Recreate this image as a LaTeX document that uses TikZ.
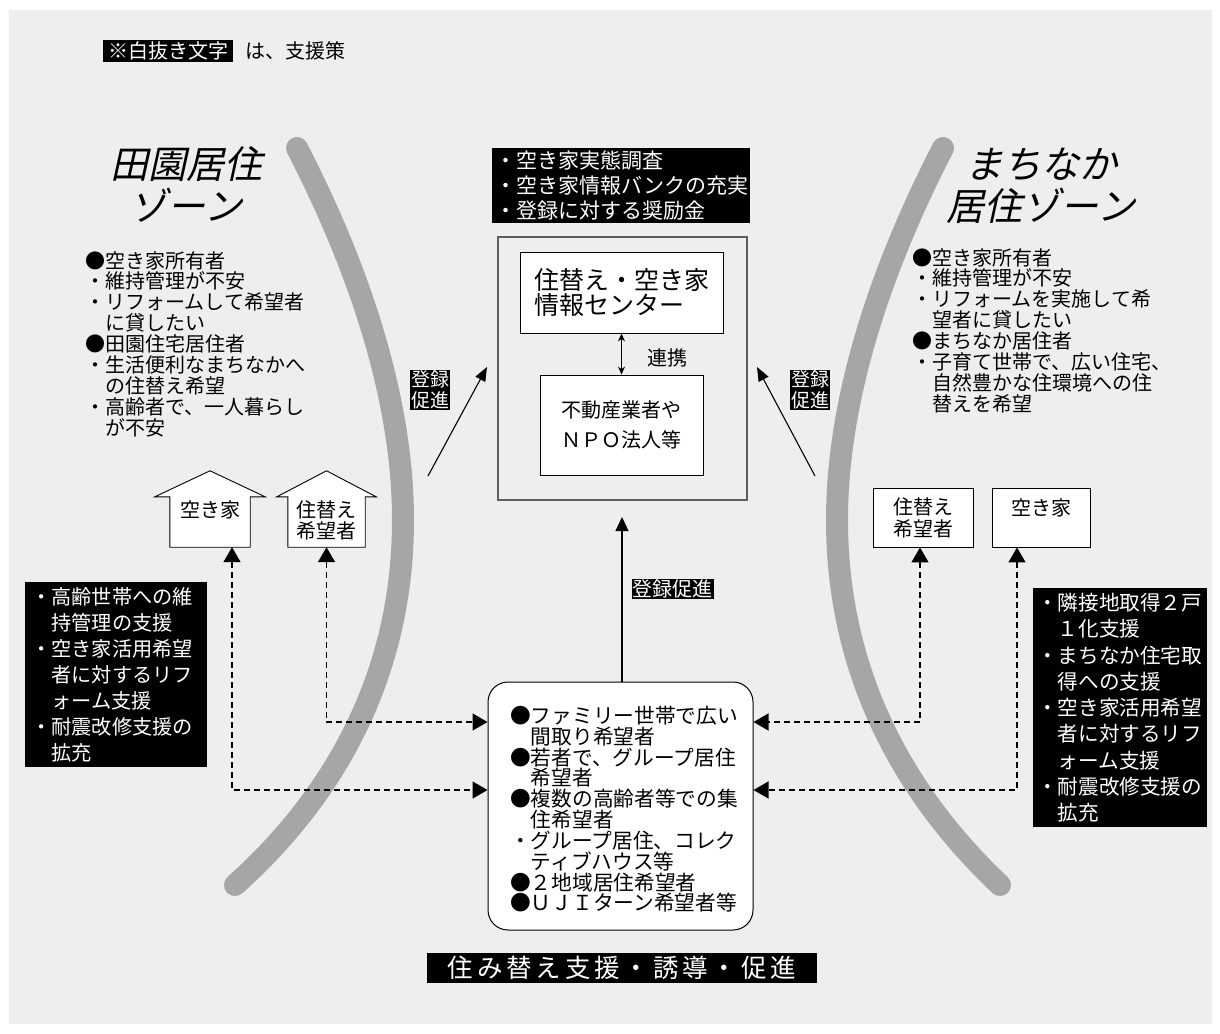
\documentclass[tikz,border=0pt]{standalone}
\usepackage{fontspec}
\setmainfont{Noto Sans CJK JP}
\newfontfamily\jpslant[FakeSlant=0.22]{Noto Sans CJK JP}
\usetikzlibrary{arrows.meta,calc}
\definecolor{bggray}{HTML}{EEEEEE}
\definecolor{arcgray}{HTML}{A6A6A6}
\definecolor{framegray}{HTML}{5E5E5E}
\begin{document}
\begin{tikzpicture}[x=1pt,y=-1pt,
  txt/.style={inner sep=0pt, align=left, font=\fontsize{20}{20.9}\selectfont},
  rev/.style={fill=black, text=white},
  wbox/.style={draw=black, fill=white, line width=0.9pt},
  wline/.style={draw=black, fill=white, line width=0.9pt},
  zonearc/.style={draw=arcgray, line width=22pt, line cap=round},
  dl/.style={line width=1.4pt, dash pattern=on 6pt off 4pt, {Triangle[width=17pt,length=15pt]}-{Triangle[width=17pt,length=15pt]}},
  ttl/.style={font=\jpslant\fontsize{38}{42}\selectfont, align=center, inner sep=0pt},
  promo/.style={line width=1.1pt, -{Triangle[width=11pt,length=14pt]}},
]
\useasboundingbox (0,0) rectangle (1220,1033);
\fill[white] (0,0) rectangle (1220,1033);
\fill[bggray] (9,10) rectangle (1212,1024);

% zone arcs
\draw[zonearc] (297,148) .. controls (360,270) and (403,400) .. (403,520) .. controls (403,680) and (330,800) .. (235,885);
\draw[zonearc] (943,148) .. controls (880,270) and (837,400) .. (837,520) .. controls (837,680) and (910,800) .. (1000,885);

% legend
\node[rev, minimum width=130pt, minimum height=22pt, inner sep=0pt, font=\fontsize{20}{20}\selectfont] (leg) at (168,51) {※白抜き文字};
\node[txt, anchor=west] (legtxt) at (245,51) {は、支援策};

% titles
\node[ttl] (ttlL) at (186,184) {田園居住\\ゾーン};
\node[ttl] (ttlR) at (1041,186) {まちなか\\居住ゾーン};

% zone lists
\node[txt, anchor=north west] (listL) at (85,251) {●空き家所有者\\・維持管理が不安\\・リフォームして希望者\\　に貸したい\\●田園住宅居住者\\・生活便利なまちなかへ\\　の住替え希望\\・高齢者で、一人暮らし\\　が不安};
\node[txt, anchor=north west] (listR) at (912,248) {●空き家所有者\\・維持管理が不安\\・リフォームを実施して希\\　望者に貸したい\\●まちなか居住者\\・子育て世帯で、広い住宅、\\　自然豊かな住環境への住\\　替えを希望};

% center
\node[rev, anchor=north west, minimum width=258pt, minimum height=75pt, text width=252pt, inner xsep=3pt, inner ysep=0pt, align=left, font=\fontsize{21}{25}\selectfont] (topbox) at (492,148) {・空き家実態調査\\・空き家情報バンクの充実\\・登録に対する奨励金};
\node[draw=framegray, line width=1.6pt, minimum width=249pt, minimum height=263pt] (frame) at (622.5,368.5) {};
\node[wbox, minimum width=203pt, minimum height=81pt, align=left, inner sep=0pt, font=\fontsize{25}{25}\selectfont] (info) at (621.5,292.5) {住替え・空き家\\情報センター};
\node[wbox, minimum width=163pt, minimum height=100pt, align=center, inner sep=0pt, font=\fontsize{20}{30}\selectfont] (npo) at (621.5,425) {不動産業者や\\ＮＰＯ法人等};
\draw[line width=1pt, {Stealth[length=8pt,width=7pt]}-{Stealth[length=8pt,width=7pt]}] (info.south) -- (npo.north);
\node[txt] (renkei) at (667,358) {連携};

% promotion arrows to the centre
\coordinate (la0) at (428,476);
\coordinate (la1) at (487,367);
\draw[promo] (la0) -- (la1);
\node[rev, inner sep=1pt, align=center, font=\fontsize{19}{21}\selectfont] (promoL) at (430,390) {登録\\促進};
\coordinate (ra0) at (815,476);
\coordinate (ra1) at (757,367);
\draw[promo] (ra0) -- (ra1);
\node[rev, inner sep=1pt, align=center, font=\fontsize{19}{21}\selectfont] (promoR) at (810,390) {登録\\促進};

% bottom box
\node[draw=black, fill=white, line width=1pt, rounded corners=20pt, minimum width=265pt, minimum height=248pt] (bot) at (620.5,806) {};
\node[txt, anchor=north west, font=\fontsize{20.7}{20.8}\selectfont] (bottxt) at (510,706) {●ファミリー世帯で広い\\　間取り希望者\\●若者で、グループ居住\\　希望者\\●複数の高齢者等での集\\　住希望者\\・グループ居住、コレク\\　ティブハウス等\\●２地域居住希望者\\●ＵＪＩターン希望者等};

\coordinate (vtip) at (622,517);
\draw[promo, -{Triangle[width=13pt,length=14pt]}] (bot.north -| vtip) -- (vtip);
\node[rev, inner sep=1pt, font=\fontsize{20}{20}\selectfont] (promoV) at (672.5,589) {登録促進};

% banner
\node[rev, minimum width=390pt, minimum height=30pt, inner sep=0pt, font=\fontsize{25.5}{26}\selectfont\addfontfeature{LetterSpace=15}] (banner) at (622,968) {住み替え支援・誘導・促進};

% left houses
\node[minimum width=80pt, minimum height=50pt, inner sep=0pt] (h1) at (210,522) {};
\draw[wline] (h1.south west) -- (h1.north west) -- ++(-15,0) -- ([yshift=26pt]h1.north) -- ([xshift=15pt]h1.north east) -- (h1.north east) -- (h1.south east) -- cycle;
\node[txt, anchor=north] (h1t) at ([yshift=-4pt]h1.north) {空き家};
\node[minimum width=77pt, minimum height=50pt, inner sep=0pt] (h2) at (326.5,522) {};
\draw[wline] (h2.south west) -- (h2.north west) -- ++(-11,0) -- ([yshift=26pt]h2.north) -- ([xshift=11pt]h2.north east) -- (h2.north east) -- (h2.south east) -- cycle;
\node[txt, anchor=north, align=center, font=\fontsize{20}{21}\selectfont] (h2t) at ([yshift=-4pt]h2.north) {住替え\\希望者};

% right boxes
\node[wbox, minimum width=100pt, minimum height=59pt, align=center, inner sep=0pt, font=\fontsize{20}{22}\selectfont] (r1) at (923,517.5) {住替え\\希望者};
\node[wbox, minimum width=98pt, minimum height=59pt] (r2) at (1041,517.5) {};
\node[txt, anchor=north] (r2t) at ([yshift=-11pt]r2.north) {空き家};

% dashed connectors
\draw[dl] ([xshift=22pt]h1.south) |- ([yshift=16pt]bot.west);
\draw[dl] (h2.south) |- ([yshift=84pt]bot.west);
\draw[dl] ([xshift=-3pt]r1.south) |- ([yshift=84pt]bot.east);
\draw[dl] ([xshift=-24pt]r2.south) |- ([yshift=16pt]bot.east);

% support boxes
\node[rev, anchor=north west, minimum width=182pt, minimum height=185pt, text width=170pt, inner xsep=6pt, inner ysep=0pt, align=left, font=\fontsize{20.2}{26}\selectfont] (supL) at (25,582) {・高齢世帯への維\\　持管理の支援\\・空き家活用希望\\　者に対するリフ\\　ォーム支援\\・耐震改修支援の\\　拡充};
\node[rev, anchor=north west, minimum width=174pt, minimum height=239pt, text width=166pt, inner xsep=4pt, inner ysep=0pt, align=left, font=\fontsize{20.6}{26.25}\selectfont] (supR) at (1033,588) {・隣接地取得２戸\\　１化支援\\・まちなか住宅取\\　得への支援\\・空き家活用希望\\　者に対するリフ\\　ォーム支援\\・耐震改修支援の\\　拡充};
\end{tikzpicture}
\end{document}
